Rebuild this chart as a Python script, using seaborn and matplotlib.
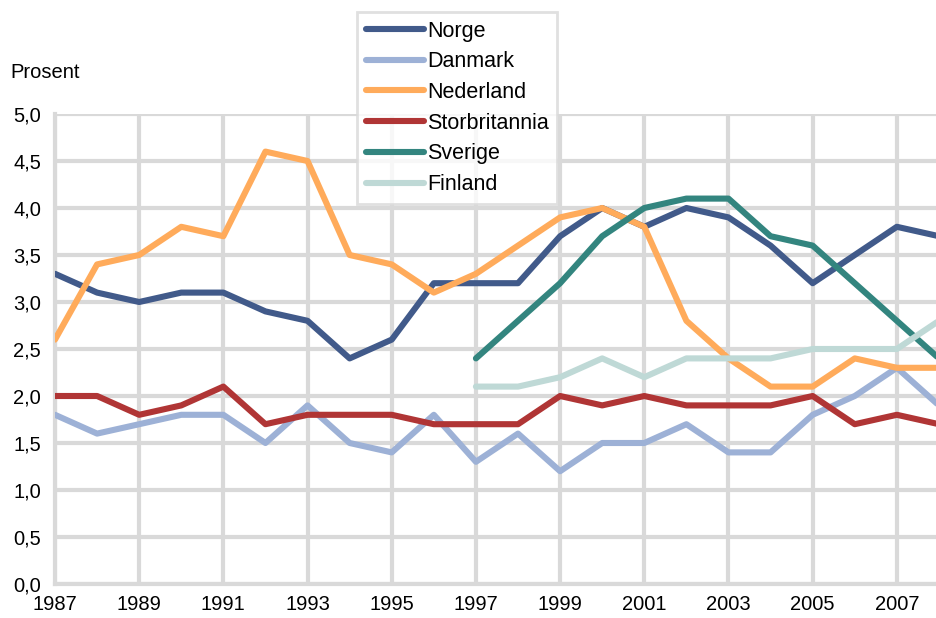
import numpy as np
import pandas as pd
import matplotlib
matplotlib.use("Agg")
import matplotlib.pyplot as plt
from matplotlib.ticker import FuncFormatter
import seaborn as sns

# Data
years = list(range(1987, 2009))
norge = [3.3, 3.1, 3.0, 3.1, 3.1, 2.9, 2.8, 2.4, 2.6, 3.2, 3.2,
         3.2, 3.7, 4.0, 3.8, 4.0, 3.9, 3.6, 3.2, 3.5, 3.8, 3.7]
danmark = [1.8, 1.6, 1.7, 1.8, 1.8, 1.5, 1.9, 1.5, 1.4, 1.8, 1.3,
           1.6, 1.2, 1.5, 1.5, 1.7, 1.4, 1.4, 1.8, 2.0, 2.3, 1.9]
nederland = [2.6, 3.4, 3.5, 3.8, 3.7, 4.6, 4.5, 3.5, 3.4, 3.1, 3.3,
             3.6, 3.9, 4.0, 3.8, 2.8, 2.4, 2.1, 2.1, 2.4, 2.3, 2.3]
storbritannia = [2.0, 2.0, 1.8, 1.9, 2.1, 1.7, 1.8, 1.8, 1.8, 1.7, 1.7,
                 1.7, 2.0, 1.9, 2.0, 1.9, 1.9, 1.9, 2.0, 1.7, 1.8, 1.7]
sverige = [np.nan] * 10 + [2.4, 2.8, 3.2, 3.7, 4.0, 4.1, 4.1, 3.7, 3.6, 3.2, 2.8, 2.4]
finland = [np.nan] * 10 + [2.1, 2.1, 2.2, 2.4, 2.2, 2.4, 2.4, 2.4, 2.5, 2.5, 2.5, 2.8]

countries = ["Norge", "Danmark", "Nederland", "Storbritannia", "Sverige", "Finland"]
colors = ["#415A8A", "#9DB1D6", "#FFAB5B", "#B03535", "#33857F", "#BFD9D6"]
series = [norge, danmark, nederland, storbritannia, sverige, finland]

df = pd.DataFrame({"År": years * len(countries),
                   "Land": np.repeat(countries, len(years)),
                   "Verdi": np.concatenate(series)}).dropna()

sns.set_style("white")
plt.rcParams["font.family"] = ["Liberation Sans", "DejaVu Sans"]
plt.rcParams["text.color"] = "black"
plt.rcParams["xtick.color"] = "black"
plt.rcParams["ytick.color"] = "black"
fs = 14.5

fig = plt.figure(figsize=(9.36, 6.18), dpi=100)
ax = fig.add_axes([55 / 936, 1 - 584 / 618, 1 - 55 / 936, (584 - 114) / 618])

sns.lineplot(data=df, x="År", y="Verdi", hue="Land", hue_order=countries,
             palette=colors, linewidth=4.4, ax=ax, legend=False,
             solid_capstyle="round", zorder=3)

ax.set_xlim(1987, 2007.93)
ax.set_ylim(0, 5)
ax.set_xticks(range(1987, 2008, 2))
ax.set_yticks(np.arange(0, 5.01, 0.5))
ax.yaxis.set_major_formatter(FuncFormatter(lambda v, p: f"{v:.1f}".replace(".", ",")))
ax.grid(True, color="#D9D9D9", linewidth=3, zorder=0)
ax.set_axisbelow(True)
for s in ["top", "right"]:
    ax.spines[s].set_visible(False)
for s in ["left", "bottom"]:
    ax.spines[s].set_color("#D9D9D9")
    ax.spines[s].set_linewidth(3)
ax.tick_params(axis="y", length=0, labelsize=fs, pad=10)
ax.tick_params(axis="x", length=0, labelsize=fs, pad=8)
ax.set_xlabel("")
ax.set_ylabel("")

fig.text(10 / 936, 1 - 73 / 618, "Prosent", fontsize=fs, va="center", ha="left")

handles = [plt.Line2D([], [], color=c, linewidth=4.4, solid_capstyle="round") for c in colors]
leg = fig.legend(handles, countries, loc="upper left",
                 bbox_to_anchor=(357 / 936, 1 - 12 / 618), bbox_transform=fig.transFigure,
                 fontsize=15.5, frameon=True, fancybox=False, handlelength=2.7,
                 handletextpad=0.15, labelspacing=0.45, borderpad=0.4, borderaxespad=0)
leg.get_frame().set_edgecolor("#D9D9D9")
leg.get_frame().set_linewidth(2)
leg.set_zorder(5)

fig.savefig("out.png", dpi=100)
